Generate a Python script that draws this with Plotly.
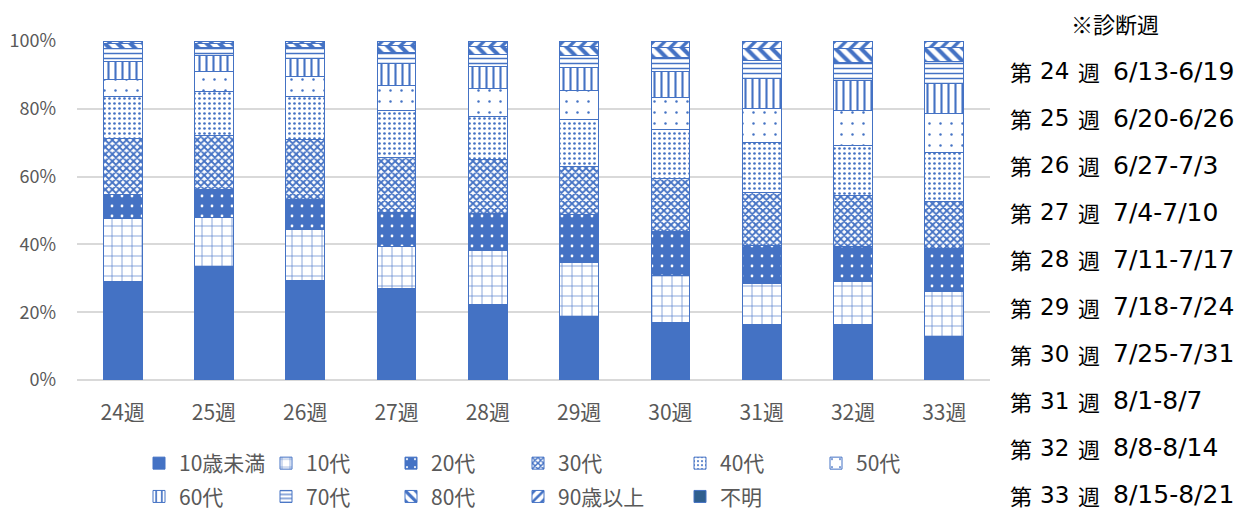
import plotly.graph_objects as go

# ---- data (percent shares) ----
weeks = ["24週", "25週", "26週", "27週", "28週", "29週", "30週", "31週", "32週", "33週"]
age_groups = ["10歳未満", "10代", "20代", "30代", "40代", "50代",
              "60代", "70代", "80代", "90歳以上", "不明"]

under10 = [29.0, 33.6, 29.4, 27.2, 22.4, 18.6, 17.1, 16.4, 16.4, 12.8]
teens   = [18.7, 14.4, 15.2, 12.3, 16.0, 16.0, 13.8, 12.0, 12.8, 13.3]
age20   = [6.9, 8.4, 8.7, 10.0, 10.9, 14.1, 13.0, 11.5, 10.2, 12.8]
age30   = [16.7, 16.0, 17.8, 16.3, 15.8, 14.3, 15.8, 15.5, 15.0, 13.7]
age40   = [12.3, 13.1, 12.9, 13.9, 12.9, 13.9, 14.3, 14.7, 14.8, 14.3]
age50   = [4.9, 5.9, 5.9, 7.4, 8.1, 8.4, 9.4, 10.1, 10.5, 11.5]
age60   = [5.4, 4.5, 5.2, 6.4, 6.7, 6.9, 7.9, 8.9, 8.6, 9.1]
age70   = [3.9, 2.6, 3.4, 3.4, 3.5, 3.4, 4.0, 5.2, 5.6, 6.4]
age80   = [1.4, 1.1, 1.1, 2.2, 2.5, 2.8, 3.1, 3.8, 4.0, 4.0]
age90   = [0.6, 0.5, 0.5, 1.0, 1.3, 1.4, 1.6, 1.9, 2.0, 1.8]
unknown = [0.2, 0.2, 0.2, 0.2, 0.2, 0.2, 0.2, 0.2, 0.2, 0.2]

series = [under10, teens, age20, age30, age40, age50,
          age60, age70, age80, age90, unknown]

y_tick_vals = [0, 20, 40, 60, 80, 100]
y_tick_text = ["0%", "20%", "40%", "60%", "80%", "100%"]

note_title = "※診断週"
note_weeks = ["24", "25", "26", "27", "28", "29", "30", "31", "32", "33"]
note_dates = ["6/13-6/19", "6/20-6/26", "6/27-7/3", "7/4-7/10", "7/11-7/17",
              "7/18-7/24", "7/25-7/31", "8/1-8/7", "8/8-8/14", "8/15-8/21"]

# ---- styling ----
BLUE = "#4472C4"
OFF = 8                      # page body margin offset
W, H = 1258 - OFF, 515 - OFF
L = 77 - OFF
T = 41 - OFF
R = W - (990 - OFF)
B = H - (380 - OFF)
PW, PH = W - L - R, H - T - B

def px_x(x):   # screen pixel -> paper
    return (x - OFF - L) / PW

def px_y(y):
    return (H - B - (y - OFF)) / PH

styles = [
    dict(color=BLUE),
    dict(color="white", pattern=dict(shape="+", fgcolor=BLUE, bgcolor="white", size=10, solidity=0.12, fillmode="replace")),
    dict(color=BLUE, pattern=dict(shape=".", fgcolor="white", bgcolor=BLUE, size=10, solidity=0.06, fillmode="replace")),
    dict(color="white", pattern=dict(shape="x", fgcolor=BLUE, bgcolor="white", size=5, solidity=0.6, fillmode="replace")),
    dict(color="white", pattern=dict(shape=".", fgcolor=BLUE, bgcolor="white", size=5, solidity=0.22, fillmode="replace")),
    dict(color="white", pattern=dict(shape=".", fgcolor=BLUE, bgcolor="white", size=11, solidity=0.04, fillmode="replace")),
    dict(color="white", pattern=dict(shape="|", fgcolor=BLUE, bgcolor="white", size=7, solidity=0.3, fillmode="replace")),
    dict(color="white", pattern=dict(shape="-", fgcolor=BLUE, bgcolor="white", size=5, solidity=0.3, fillmode="replace")),
    dict(color="white", pattern=dict(shape="\\", fgcolor=BLUE, bgcolor="white", size=9, solidity=0.45, fillmode="replace")),
    dict(color="white", pattern=dict(shape="/", fgcolor=BLUE, bgcolor="white", size=8, solidity=0.4, fillmode="replace")),
    dict(color="#2F5F8F"),
]

legend_names = ["legend", "legend2", "legend3", "legend4", "legend5", "legend6"]
col_x = [158, 285, 410, 537, 699, 835]

fig = go.Figure()
for i, (name, vals, st) in enumerate(zip(age_groups, series, styles)):
    marker = dict(st)
    marker["line"] = dict(color=BLUE, width=1)
    fig.add_trace(go.Bar(
        x=weeks, y=vals, name=name, marker=marker,
        legend=legend_names[i % 6], legendgroup=name,
    ))

legend_font = dict(family="Noto Sans CJK JP", size=21, color="#595959")
layout_legends = {}
for k, ln in enumerate(legend_names):
    layout_legends[ln] = dict(
        x=px_x(col_x[k] - 19), xanchor="left",
        y=px_y(443), yanchor="top",
        orientation="v", traceorder="grouped", tracegroupgap=3,
        font=legend_font, bgcolor="rgba(0,0,0,0)", borderwidth=0,
    )

fig.update_layout(
    width=W, height=H, autosize=False,
    margin=dict(l=L, r=R, t=T, b=B, pad=0, autoexpand=False),
    barmode="stack", barnorm="percent", bargap=0.575,
    plot_bgcolor="white", paper_bgcolor="white",
    showlegend=True,
    font=dict(family="Noto Sans CJK JP", color="#595959"),
    **layout_legends,
)

fig.update_yaxes(
    range=[0, 100], tickmode="array", tickvals=y_tick_vals, ticktext=y_tick_text,
    showgrid=True, gridcolor="#D9D9D9", gridwidth=1.5,
    zeroline=True, zerolinecolor="#D9D9D9", zerolinewidth=1.5,
    showline=False, ticks="", ticklabelstandoff=20,
    tickfont=dict(family="Noto Sans CJK JP", size=18, color="#595959"),
)
fig.update_xaxes(
    showgrid=False, showline=False, ticks="", ticklabelstandoff=18,
    tickfont=dict(family="Noto Sans CJK JP", size=21, color="#595959"),
)

fig.add_annotation(
    x=px_x(1069), y=px_y(23), xref="paper", yref="paper",
    xanchor="left", yanchor="middle", showarrow=False,
    text=note_title, font=dict(family="Noto Sans CJK JP", size=22, color="black"),
)
cjk = dict(family="Noto Sans CJK JP", size=22, color="black")
num = dict(family="DejaVu Sans", size=23, color="black")
num_date = dict(family="DejaVu Sans", size=25, color="black")
for i in range(len(note_weeks)):
    yc = px_y(71 + 47.1 * i)
    for xpix, txt, fnt in [(1008, "第", cjk), (1038, note_weeks[i], num),
                           (1076, "週", cjk), (1111, note_dates[i], num_date)]:
        fig.add_annotation(
            x=px_x(xpix), y=yc, xref="paper", yref="paper",
            xanchor="left", yanchor="middle", showarrow=False,
            text=txt, font=fnt,
        )

fig.write_html("out.html")
